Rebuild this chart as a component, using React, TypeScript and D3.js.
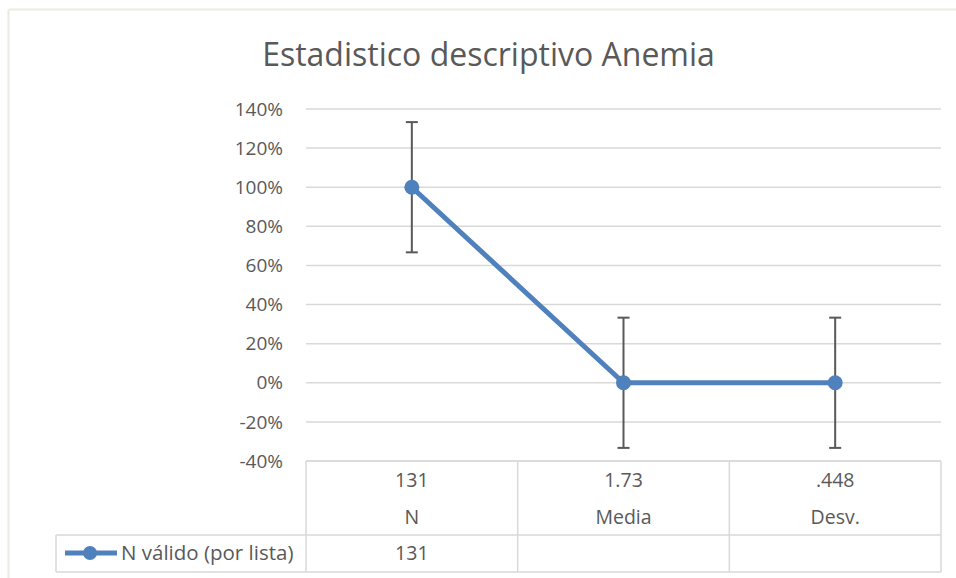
import React from "react";
import * as d3 from "d3";

const categories = ["N", "Media", "Desv."];
const tableValues = ["131", "1.73", ".448"];
const seriesName = "N válido (por lista)";
const seriesValues = [1, 0, 0];
const seriesTable = ["131", "", ""];
const errorValues = [0.333, 0.333, 0.333];
const yTicks = [-0.4, -0.2, 0, 0.2, 0.4, 0.6, 0.8, 1.0, 1.2, 1.4];
const title = "Estadistico descriptivo Anemia";

const W = 956;
const H = 578;
const FONT = "'Open Sans', Calibri, sans-serif";
const TEXT = "#595959";
const GRID = "#d9d9d9";
const BLUE = "#4f81bd";

export default function App() {
  const left = 306;
  const right = 941;
  const top = 109;
  const bottom = 461;
  const y = d3.scaleLinear().domain([-0.4, 1.4]).range([bottom, top]);
  const x = d3.scaleBand<string>().domain(categories).range([left, right]);
  const cx = (c: string) => (x(c) as number) + x.bandwidth() / 2;
  const fmt = (t: number) => `${Math.round(t * 100)}%`;
  const line = d3
    .line<number>()
    .x((_, i) => cx(categories[i]))
    .y((d) => y(d));

  const row1 = 535;
  const row2 = 572;
  const legendLeft = 56;

  return (
    <svg
      width={W}
      height={H}
      style={{ position: "absolute", left: 0, top: 0, background: "#fff" }}
      fontFamily={FONT}
    >
      <rect x={0} y={0} width={W} height={H} fill="#fff" />
      {/* outer chart border */}
      <line x1={8.5} y1={9.5} x2={W} y2={9.5} stroke="#ebebe0" strokeWidth={2} />
      <line x1={8.5} y1={9.5} x2={8.5} y2={H} stroke="#ebebe0" strokeWidth={2} />

      <text x={488.5} y={66} textAnchor="middle" fontSize={32} fill={TEXT}>
        {title}
      </text>

      {/* gridlines */}
      {yTicks.map((t) => (
        <line
          key={"g" + t}
          x1={left}
          x2={right}
          y1={y(t)}
          y2={y(t)}
          stroke={GRID}
          strokeWidth={1.5}
        />
      ))}
      {yTicks.map((t) => (
        <text
          key={"t" + t}
          x={283}
          y={y(t)}
          dy="0.35em"
          textAnchor="end"
          fontSize={19}
          fill={TEXT}
        >
          {fmt(t)}
        </text>
      ))}

      {/* data table */}
      <g stroke={GRID} strokeWidth={1.5} fill="none">
        <line x1={left} x2={right} y1={bottom} y2={bottom} />
        <line x1={legendLeft} x2={right} y1={row1} y2={row1} />
        <line x1={legendLeft} x2={right} y1={row2} y2={row2} />
        <line x1={legendLeft} x2={legendLeft} y1={row1} y2={row2} />
        {categories.map((c) => (
          <line key={"v" + c} x1={x(c)} x2={x(c)} y1={bottom} y2={row2} />
        ))}
        <line x1={right} x2={right} y1={bottom} y2={row2} />
      </g>
      {categories.map((c, i) => (
        <g key={"c" + c} fontSize={19.5} fill={TEXT} textAnchor="middle">
          <text x={cx(c)} y={480.5} dy="0.35em">
            {tableValues[i]}
          </text>
          <text x={cx(c)} y={517} dy="0.35em">
            {c}
          </text>
          <text x={cx(c)} y={553.5} dy="0.35em">
            {seriesTable[i]}
          </text>
        </g>
      ))}
      {/* legend key */}
      <line x1={65} x2={117} y1={553} y2={553} stroke={BLUE} strokeWidth={5} />
      <circle cx={90} cy={553} r={7} fill={BLUE} />
      <text x={121} y={553} dy="0.35em" fontSize={20.5} fill={TEXT}>
        {seriesName}
      </text>

      {/* error bars */}
      {seriesValues.map((v, i) => {
        const px = cx(categories[i]);
        const y1 = y(v + errorValues[i]);
        const y2 = y(v - errorValues[i]);
        return (
          <g key={"e" + i} stroke="#595959" strokeWidth={2}>
            <line x1={px} x2={px} y1={y1} y2={y2} />
            <line x1={px - 6} x2={px + 6} y1={y1} y2={y1} />
            <line x1={px - 6} x2={px + 6} y1={y2} y2={y2} />
          </g>
        );
      })}

      <path d={line(seriesValues) as string} fill="none" stroke={BLUE} strokeWidth={5} strokeLinejoin="round" />
      {seriesValues.map((v, i) => (
        <circle key={"p" + i} cx={cx(categories[i])} cy={y(v)} r={7.5} fill={BLUE} />
      ))}
    </svg>
  );
}
